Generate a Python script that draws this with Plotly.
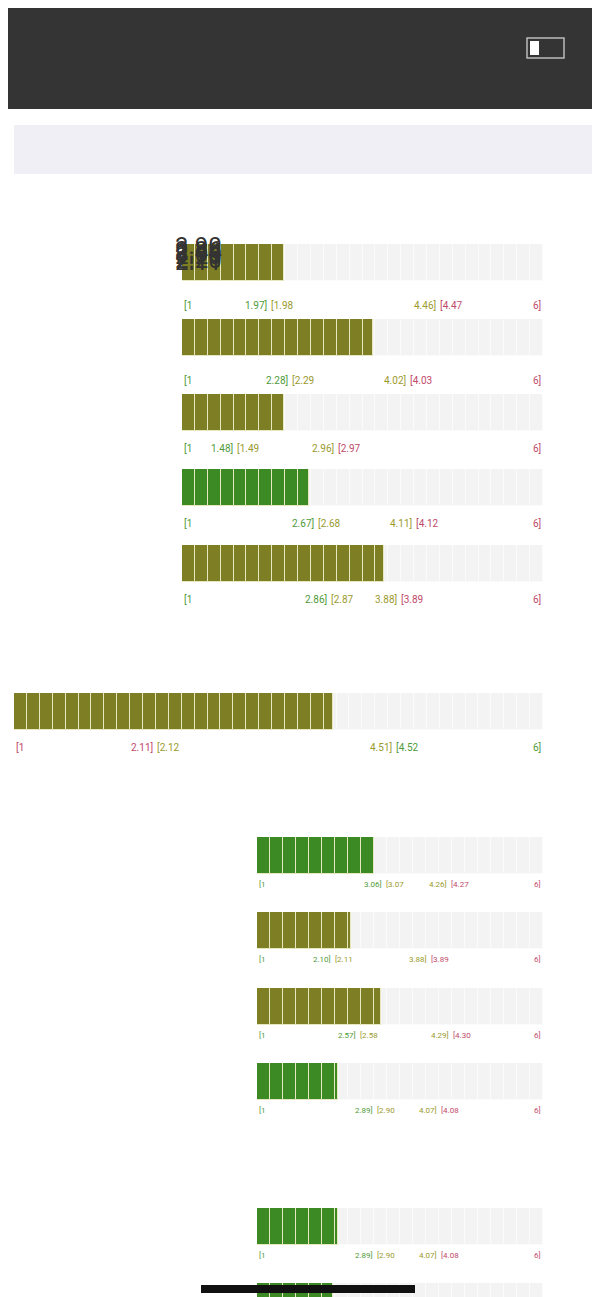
import plotly.graph_objects as go

W, H = 600, 1297
# ---- data ----
sections = ["Детские режимы", "Счастливый ребенок", "Режимы избегания", "Режимы гиперкомпенсации"]
labels = ["Уязвимый<br>ребенок", "Сердитый<br>ребенок", "Разгневанный<br>ребенок", "Импульсивный<br>ребенок",
          "Необузданный<br>ребенок", "", "Послушный<br>капитулянт", "Отстраненный<br>защитник",
          "Отстраненный<br>самоутешитель", "Высокомерный<br>самовозвеличиватель", "Высокомерный<br>самовозвеличиватель",
          "Агрессивный задира"]
values = [2.20, 3.50, 2.20, 2.56, 3.67, 3.90, 2.86, 2.44, 3.00, 2.20, 2.20, 2.11]
low_hi = [1.97, 2.28, 1.48, 2.67, 2.86, 2.11, 3.06, 2.10, 2.57, 2.89, 2.89, 2.80]
mid_hi = [4.46, 4.02, 2.96, 4.11, 3.88, 4.51, 4.26, 3.88, 4.29, 4.07, 4.07, 4.00]
reverse = [False]*5 + [True] + [False]*6
# ---- layout (pixels) ----
row_top = [236, 311, 386, 461, 537, 685, 829, 904, 980, 1055, 1200, 1275]
row_left = [174]*5 + [6] + [249]*6
row_font = [10]*6 + [8]*6
sec_y = [213, 661, 806, 1178]
RIGHT = 535; BH = 37; SEGPX = 12.9
XMIN, XMAX = 0.7, 6.0
GREEN, OLIVE = "#3c8a24", "#7e7e24"
TG, TO, TR = "#4f9a3a", "#9a9a2e", "#c04a6a"

def py(y):
    return 1 - y / H

fig = go.Figure()
ann = []
shapes = [
    dict(type="rect", xref="paper", yref="paper", x0=0, x1=1, y0=py(101), y1=1, fillcolor="#343434", line_width=0, layer="below"),
    dict(type="rect", xref="paper", yref="paper", x0=6/W, x1=594/W, y0=py(166), y1=py(117), fillcolor="#efeff5", line_width=0, layer="below"),
    dict(type="rect", xref="paper", yref="paper", x0=519/W, x1=556/W, y0=py(50), y1=py(30), fillcolor="rgba(0,0,0,0)", line=dict(color="#bbb", width=1.5)),
    dict(type="rect", xref="paper", yref="paper", x0=522/W, x1=531/W, y0=py(47), y1=py(33), fillcolor="white", line_width=0),
]
ann += [
    dict(x=97/W, y=py(40), text="17:03", font=dict(size=23, color="white", family="Roboto"), showarrow=False),
    dict(x=300/W, y=py(77), text="🔒 psytests.org", font=dict(size=18, color="white", family="Roboto"), showarrow=False),
    dict(x=478/W, y=py(40), text="▂▄▆█", font=dict(size=13, color="white"), showarrow=False),
    dict(x=300/W, y=py(142), text="<span style='font-size:24px'>Р</span>ЕЗУЛЬТАТ ТЕСТА",
         font=dict(size=19, color="#222", family="Roboto"), showarrow=False),
]
for t, y in zip(sections, sec_y):
    ann.append(dict(x=0.5, y=py(y), text=t, font=dict(size=21, color="#222", family="Roboto"), showarrow=False))

for i in range(len(values)):
    k = i + 1
    xa, ya = ("x" if k == 1 else f"x{k}"), ("y" if k == 1 else f"y{k}")
    L = row_left[i]; T = row_top[i]
    nseg = round((RIGHT - L) / SEGPX)
    su = (XMAX - XMIN) / nseg
    v = values[i]
    if not reverse[i]:
        col = GREEN if v <= low_hi[i] else (OLIVE if v <= mid_hi[i] else "#b03050")
        tc = [TG, TO, TR]
    else:
        col = "#b03050" if v <= low_hi[i] else (OLIVE if v <= mid_hi[i] else GREEN)
        tc = [TR, TO, TG]
    fig.add_trace(go.Bar(x=[su]*nseg, base=[XMIN + j*su for j in range(nseg)], y=[0]*nseg, orientation="h",
                         marker=dict(color="#f3f3f3", line=dict(color="#fbfbfb", width=1)), width=1,
                         xaxis=xa, yaxis=ya, hoverinfo="skip", showlegend=False))
    full = int((v - XMIN) // su)
    widths = [su]*full + [(v - XMIN) - full*su]
    bases = [XMIN + j*su for j in range(full + 1)]
    fig.add_trace(go.Bar(x=widths, base=bases, y=[0]*len(widths), orientation="h",
                         marker=dict(color=col, line=dict(color="#e8e8c0", width=1)), width=1,
                         xaxis=xa, yaxis=ya, hoverinfo="skip", showlegend=False))
    hvis = min(BH, H - T)
    fig.update_layout({
        ("xaxis" if k == 1 else f"xaxis{k}"): dict(domain=[L/W, RIGHT/W], range=[XMIN, XMAX], visible=False, anchor=ya),
        ("yaxis" if k == 1 else f"yaxis{k}"): dict(domain=[max(0, py(T+BH)), py(T)], range=[0.5 - hvis/BH, 0.5],
                                                   visible=False, anchor=xa),
    })
    cy = py(T + BH/2)
    ann.append(dict(x=568/W, y=cy, text=f"{v:.2f}", font=dict(size=24, color="#333", family="Roboto"), showarrow=False))
    if labels[i]:
        ann.append(dict(x=(L-7)/W, y=cy, xanchor="right", text=labels[i], align="right",
                        font=dict(size=20, color="#222", family="Roboto"), showarrow=False))
    if T + BH + 17 < H:
        ly = py(T + BH + 17)
        fs = row_font[i]
        items = [(XMIN, "[1", "left", tc[0]), (low_hi[i], f"{low_hi[i]:.2f}]", "right", tc[0]),
                 (low_hi[i], f"[{low_hi[i]+0.01:.2f}", "left", tc[1]), (mid_hi[i], f"{mid_hi[i]:.2f}]", "right", tc[1]),
                 (mid_hi[i], f"[{mid_hi[i]+0.01:.2f}", "left", tc[2]), (XMAX, "6]", "right", tc[2])]
        for xv, tx, anc, c in items:
            ann.append(dict(x=xv, xref=xa, y=ly, yref="paper", text=tx, xanchor=anc, showarrow=False,
                            font=dict(size=fs, color=c, family="Roboto")))

shapes.append(dict(type="rect", xref="paper", yref="paper", x0=193/W, x1=407/W, y0=py(1285), y1=py(1277),
                   fillcolor="#111", line_width=0, layer="above"))
fig.update_layout(width=W, height=H, margin=dict(l=0, r=0, t=0, b=0), paper_bgcolor="white",
                  plot_bgcolor="rgba(0,0,0,0)", barmode="overlay", annotations=ann, shapes=shapes, bargap=0)
fig.write_html("out.html")
